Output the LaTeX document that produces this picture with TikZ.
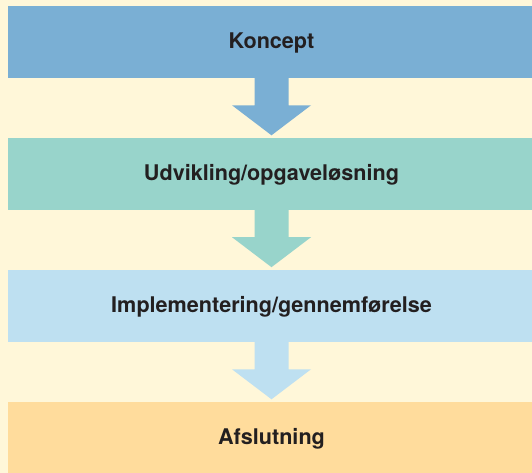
\documentclass[tikz,border=0pt]{standalone}
\usepackage{fontspec}
\setmainfont{TeX Gyre Heros}
\usetikzlibrary{calc}
\definecolor{bgc}{HTML}{FFF7D9}
\definecolor{cA}{HTML}{7AAFD4}
\definecolor{cB}{HTML}{98D4CB}
\definecolor{cC}{HTML}{BEE0F1}
\definecolor{cD}{HTML}{FFDC9C}
\definecolor{txt}{HTML}{231F20}
\tikzset{
  band/.style={fill=#1, draw=none, minimum width=528pt, minimum height=72pt,
    inner sep=0pt, text depth=2pt, text=txt, font=\fontsize{21.6}{26}\selectfont\bfseries},
  flowarrow/.style={fill=#1, draw=none}
}
\newcommand{\downarrowshape}[3]{% #1 from node, #2 color, #3 head top depth
  \fill[flowarrow=#2] ($(#1.south)+(-17pt,0)$) -- ($(#1.south)+(17pt,0)$) --
    ($(#1.south)+(17pt,-#3)$) -- ($(#1.south)+(39.5pt,-#3)$) --
    ($(#1.south)+(0,-#3-30pt)$) -- ($(#1.south)+(-39.5pt,-#3)$) --
    ($(#1.south)+(-17pt,-#3)$) -- cycle;}
\begin{document}
\begin{tikzpicture}[x=1pt,y=1pt]
\useasboundingbox (0,0) rectangle (532,473);
\fill[bgc] (0,0) rectangle (532,473);
\node[band=cA] (k) at (271.5,431.2) {Koncept};
\node[band=cB] (u) at (271.5,299.3) {Udvikling/opgaveløsning};
\node[band=cC] (i) at (271.5,167.2) {Implementering/gennemførelse};
\node[band=cD, minimum height=71pt] (a) at (271.5,35.5) {Afslutning};
\downarrowshape{k}{cA}{27.3pt}
\downarrowshape{u}{cB}{27.3pt}
\downarrowshape{i}{cC}{27.3pt}
\end{tikzpicture}
\end{document}
